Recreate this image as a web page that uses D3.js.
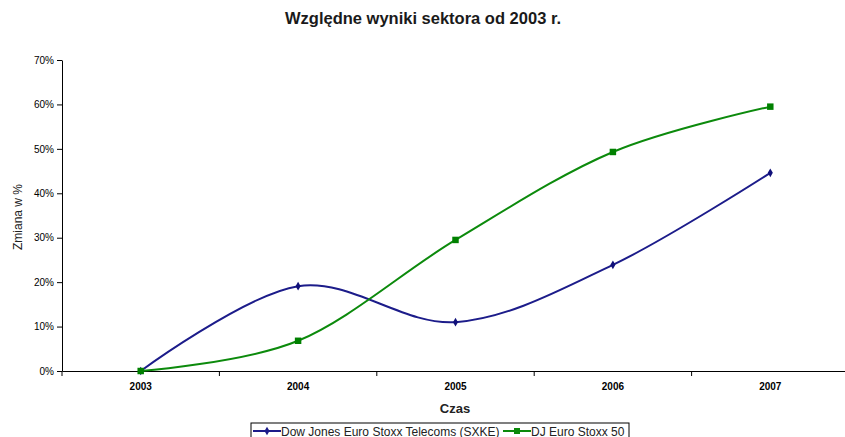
<!DOCTYPE html>
<html>
<head>
<meta charset="utf-8">
<script src="https://cdn.jsdelivr.net/npm/d3@7"></script>
<style>
  body { margin: 0; background: #fff; }
  svg { font-family: 'Liberation Sans', Arial, sans-serif; }
  .axis path, .axis line { stroke: #000; }
  .axis text { fill: #000; }
</style>
</head>
<body>
<div id="chart"></div>
<script>
var years = ['2003', '2004', '2005', '2006', '2007']
var sxke = [0, 0.191, 0.110, 0.239, 0.446]
var stoxx50 = [0, 0.068, 0.295, 0.493, 0.595]
var yTicks = [0, 0.1, 0.2, 0.3, 0.4, 0.5, 0.6, 0.7]

var margin = { top: 60, left: 62, right: -4, bottom: 66 }
var width = 845 - margin.left - margin.right
var height = 437 - margin.top - margin.bottom

var svg = d3
  .select('#chart')
  .append('svg')
  .attr('width', 845)
  .attr('height', 437)

var g = svg
  .append('g')
  .attr('transform', `translate(${margin.left},${margin.top})`)

var xPositionScale = d3
  .scaleBand()
  .domain(years)
  .range([0, width])

var yPositionScale = d3
  .scaleLinear()
  .domain([0, 0.7])
  .range([height, 0])

var xCenter = d => xPositionScale(d) + xPositionScale.bandwidth() / 2

/* Axes */
var yAxis = d3
  .axisLeft(yPositionScale)
  .tickValues(yTicks)
  .tickFormat(d3.format('.0%'))
  .tickSize(5)
  .tickSizeOuter(0)
g.append('g')
  .attr('class', 'axis y-axis')
  .call(yAxis)
  .call(s => s.selectAll('text').attr('font-size', 10).attr('fill', '#222').attr('x', -8))

var xAxis = d3.axisBottom(xPositionScale).tickSize(0).tickSizeOuter(0)
var xg = g
  .append('g')
  .attr('class', 'axis x-axis')
  .attr('transform', `translate(0,${height})`)
  .call(xAxis)
xg.selectAll('text')
  .attr('font-size', 10)
  .attr('font-weight', 'bold')
  .attr('fill', '#222')
  .attr('dy', '1.55em')
// tick marks at category boundaries
xg.selectAll('.bound')
  .data(years)
  .enter()
  .append('line')
  .attr('x1', d => xPositionScale(d))
  .attr('x2', d => xPositionScale(d))
  .attr('y1', 0)
  .attr('y2', 5)
  .attr('stroke', '#000')

/* Lines */
var series = [
  { name: 'Dow Jones Euro Stoxx Telecoms (SXKE)', values: sxke, color: '#1c1c8a', marker: 'diamond' },
  { name: 'DJ Euro Stoxx 50', values: stoxx50, color: '#0c8a0c', marker: 'square' }
]

var line = d3
  .line()
  .x((d, i) => xCenter(years[i]))
  .y(d => yPositionScale(d))
  .curve(d3.curveCardinal.tension(0))

series.forEach(s => {
  g.append('path')
    .datum(s.values)
    .attr('fill', 'none')
    .attr('stroke', s.color)
    .attr('stroke-width', 2)
    .attr('d', line)

  var sym = d3.symbol().type(s.marker === 'square' ? d3.symbolSquare : d3.symbolDiamond).size(s.marker === 'square' ? 42 : 22)
  g.selectAll('.m-' + s.marker)
    .data(s.values)
    .enter()
    .append('path')
    .attr('transform', (d, i) => `translate(${xCenter(years[i])},${yPositionScale(d)})`)
    .attr('d', sym)
    .attr('fill', s.marker === 'square' ? '#008000' : '#10107a')
})

/* Titles */
svg.append('text')
  .attr('x', 423)
  .attr('y', 24)
  .attr('text-anchor', 'middle')
  .attr('font-size', 16.5)
  .attr('font-weight', 'bold')
  .attr('fill', '#1a1a1a')
  .text('Względne wyniki sektora od 2003 r.')

svg.append('text')
  .attr('transform', 'translate(22,217) rotate(-90)')
  .attr('text-anchor', 'middle')
  .attr('font-size', 12)
  .attr('fill', '#222')
  .text('Zmiana w %')

svg.append('text')
  .attr('x', 455)
  .attr('y', 413)
  .attr('text-anchor', 'middle')
  .attr('font-size', 13)
  .attr('font-weight', 'bold')
  .attr('fill', '#222')
  .text('Czas')

/* Legend */
var legend = svg.append('g').attr('transform', 'translate(251,423)')
legend.append('rect')
  .attr('x', 0)
  .attr('y', 0)
  .attr('width', 378)
  .attr('height', 18)
  .attr('fill', '#fff')
  .attr('stroke', '#000')
  .attr('stroke-width', 1)

var legendX = [2, 252]
series.forEach((s, i) => {
  var lg = legend.append('g').attr('transform', `translate(${legendX[i]},8)`)
  lg.append('line')
    .attr('x1', 0)
    .attr('x2', 28)
    .attr('stroke', s.color)
    .attr('stroke-width', 2)
  lg.append('path')
    .attr('transform', 'translate(14,0)')
    .attr('d', d3.symbol().type(s.marker === 'square' ? d3.symbolSquare : d3.symbolDiamond).size(s.marker === 'square' ? 36 : 22))
    .attr('fill', s.color)
  lg.append('text')
    .attr('x', 28)
    .attr('y', 4.5)
    .attr('font-size', 12)
    .attr('fill', '#222')
    .text(s.name)
})
</script>
</body>
</html>
